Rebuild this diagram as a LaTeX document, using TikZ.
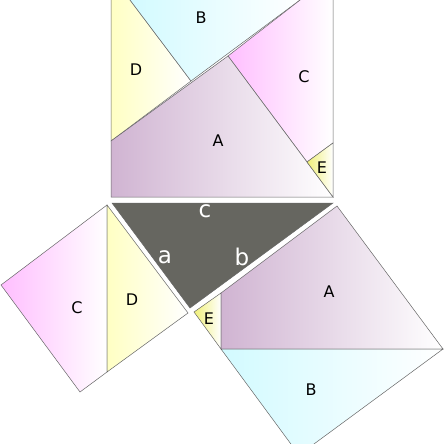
\documentclass[tikz,border=0pt]{standalone}
\usepackage{fontspec}
\setmainfont{DejaVu Sans}
\begin{document}
\begin{tikzpicture}[x=1pt,y=-1pt,
  pc/.style={draw=gray!80!black,line width=0.5pt},
  pA/.style={pc,left color={rgb,255:red,208;green,180;blue,210},right color=white},
  pB/.style={pc,left color={rgb,255:red,210;green,250;blue,255},right color=white},
  pC/.style={pc,left color={rgb,255:red,255;green,190;blue,255},right color=white},
  pD/.style={pc,left color={rgb,255:red,255;green,255;blue,195},right color=white},
  pE/.style={pc,left color={rgb,255:red,240;green,240;blue,120},right color=white},
  lab/.style={font=\fontsize{16}{16}\selectfont,text=black},
  wl/.style={font=\fontsize{23}{23}\selectfont,text=white}]
\useasboundingbox (0,0) rectangle (444,444);
\begin{scope}
\clip (0,0) rectangle (444,444);
% top square
\path[pD] (111,-2) -- (128.5,-2) -- (191,81) -- (111,141) -- cycle;
\path[pB] (128.5,-2) -- (302.7,-2) -- (191,81) -- cycle;
\path[pC] (302.7,-2) -- (333,-2) -- (333,143) -- (307,162) -- (228,56) -- cycle;
\path[pA] (111,141) -- (228,56) -- (333,197) -- (111,197) -- cycle;
\path[pE] (307,162) -- (333,143) -- (333,197) -- cycle;
% triangle
\path[fill={rgb,255:red,102;green,102;blue,96},draw=gray!80!black,line width=0.5pt] (112,203) -- (333,203) -- (190,308) -- cycle;
% left square
\path[pC] (107,205) -- (1,285) -- (80,392) -- (107,372) -- cycle;
\path[pD] (107,205) -- (188,313) -- (107,372) -- cycle;
% right square
\path[pE] (194,312) -- (221,293) -- (221,349) -- cycle;
\path[pA] (221,293) -- (337,206) -- (443,349) -- (221,349) -- cycle;
\path[pB] (221,349) -- (443,349) -- (299,455) -- cycle;
\end{scope}
\node[lab] (tB) at (201,18) {B};
\node[lab] (tD) at (136,70) {D};
\node[lab] (tC) at (304,77) {C};
\node[lab] (tA) at (218,141) {A};
\node[lab] (tE) at (322,168) {E};
\node[wl] (lc) at (205,211) {c};
\node[wl] (la) at (165,257) {a};
\node[wl] (lb) at (242,257) {b};
\node[lab] (bC) at (77,308) {C};
\node[lab] (bD) at (132,300) {D};
\node[lab] (bE) at (209,319) {E};
\node[lab] (bA) at (329,292) {A};
\node[lab] (bB) at (311,390) {B};
\end{tikzpicture}
\end{document}
